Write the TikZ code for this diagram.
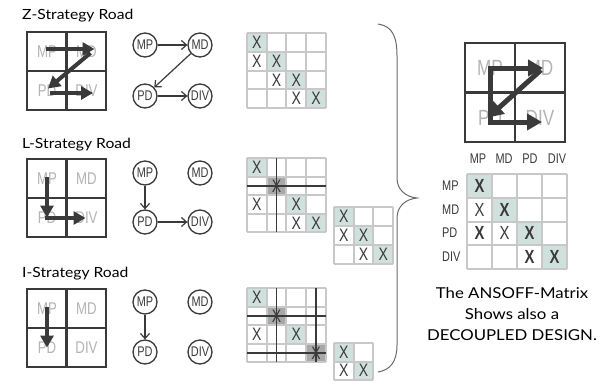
\documentclass[tikz,border=0pt]{standalone}
\usepackage{fontspec}
\usetikzlibrary{arrows.meta,calc}
\newfontfamily\handfont[FakeStretch=1.12]{Lato}
\newfontfamily\condfont[FakeStretch=0.78]{Liberation Sans}

\definecolor{ink}{HTML}{3A3A3A}
\definecolor{gridgray}{HTML}{C8C8C8}
\definecolor{labelgray}{HTML}{B4B4B4}
\definecolor{diagfill}{HTML}{D0E0DD}
\definecolor{darkfill}{HTML}{A8A8A8}
\definecolor{bracegray}{HTML}{6A6A6A}

\tikzset{
  quadframe/.style={draw=ink, line width=2.2pt},
  bigframe/.style={draw=ink, line width=2.8pt},
  quadlabel/.style={font=\condfont\fontsize{17}{17}\selectfont, text=labelgray, inner sep=0},
  biglabel/.style={font=\condfont\fontsize{22}{22}\selectfont, text=labelgray, inner sep=0},
  flow/.style={draw=ink, line width=4pt, -{Triangle[length=12pt,width=13pt]}},
  bigflow/.style={draw=ink, line width=5pt, line join=miter, -{Triangle[length=15pt,width=16pt]}},
  circ/.style={circle, draw=ink, line width=1.3pt, minimum size=24pt, inner sep=0,
    font=\condfont\fontsize{14}{14}\selectfont, text=ink},
  link/.style={draw=ink, line width=1.2pt, -{Straight Barb[length=5pt,width=9pt]}},
  mgrid/.style={draw=gridgray, line width=2pt, line cap=square},
  xmark/.style={font=\condfont\fontsize{18}{18}\selectfont, text=ink, inner sep=0},
  xbold/.style={font=\condfont\bfseries\fontsize{19}{19}\selectfont, text=ink, inner sep=0},
  xthin/.style={font=\condfont\fontsize{19}{19}\selectfont, text=ink, inner sep=0},
  cross/.style={draw=ink, line width=1.6pt},
  roadtitle/.style={font=\handfont\fontsize{14}{14}\selectfont, text=black, anchor=base west, inner sep=0},
  note/.style={font=\handfont\fontsize{15}{15}\selectfont, text=black, anchor=base, inner sep=0},
  axislabel/.style={font=\condfont\fontsize{14}{14}\selectfont, text=ink, inner sep=0},
  brace/.style={draw=bracegray, line width=1pt},
}

% 2x2 strategy grid with grey labels; #1 name prefix, (#2,#3) top-left corner
\newcommand\quadgrid[3]{%
  \draw[quadframe] (#2,#3) rectangle ++(79,78);
  \draw[quadframe] (#2+39.5,#3) -- ++(0,78);
  \draw[quadframe] (#2,#3+39) -- ++(79,0);
  \node[quadlabel] (#1MP)  at (#2+20,#3+19.5) {MP};
  \node[quadlabel] (#1MD)  at (#2+59.5,#3+19.5) {MD};
  \node[quadlabel] (#1PD)  at (#2+20,#3+58.5) {PD};
  \node[quadlabel] (#1DIV) at (#2+59.5,#3+58.5) {DIV};
}
% four circled graph nodes; #1 prefix, #2 top row y, #3 bottom row y
\newcommand\graphnodes[3]{%
  \node[circ] (#1MP)  at (145,#2) {MP};
  \node[circ] (#1MD)  at (200,#2) {MD};
  \node[circ] (#1PD)  at (145,#3) {PD};
  \node[circ] (#1DIV) at (200,#3) {DIV};
}
% design structure matrix helpers
\newcommand\setmtx[4]{\def\mx{#1}\def\my{#2}\def\mw{#3}\def\mh{#4}}
\newcommand\shadecells[2]{%
  \foreach \cc/\rr in {#2}
    \fill[#1] ({\mx+(\cc-1)*\mw},{\my+(\rr-1)*\mh}) rectangle ++(\mw,\mh);}
\newcommand\gridcells[2]{%
  \foreach \k in {0,...,#1} \draw[mgrid] ({\mx+\k*\mw},\my) -- ++(0,{#2*\mh});
  \foreach \k in {0,...,#2} \draw[mgrid] (\mx,{\my+\k*\mh}) -- ++({#1*\mw},0);}
\newcommand\dsmmarks[3]{%
  \foreach \cc/\rr in {#3}
    \node[#2] (#1-\rr-\cc) at ({\mx+(\cc-0.5)*\mw},{\my+(\rr-0.5)*\mh}) {X};}
\newcommand\crosshair[3]{%
  \draw[cross] ({\mx+(#1-0.5)*\mw},\my) -- ++(0,{#3*\mh});
  \draw[cross] (\mx,{\my+(#1-0.5)*\mh}) -- ++({#2*\mw},0);}

\begin{document}
\begin{tikzpicture}[x=1pt,y=-1pt]
\useasboundingbox (0,0) rectangle (610,380);
\fill[white] (0,0) rectangle (610,380);

% ---------------- Z-Strategy Road ----------------
\node[roadtitle] (zt) at (22,19) {Z-Strategy Road};
\quadgrid{zq}{27}{32}
\draw[flow] ([shift={(-1,-2.5)}]zqMP.center) -- ([shift={(8,-2.5)}]zqMD.center);
\draw[flow] ([shift={(4,1.5)}]zqMD.center) -- ([shift={(1,-2)}]zqPD.center);
\draw[flow] ([shift={(3,2.5)}]zqPD.center) -- ([shift={(6.5,2.5)}]zqDIV.center);
\graphnodes{zg}{45}{96}
\draw[link] (zgMP) -- (zgMD);
\draw[link] (zgMD) -- (zgPD);
\draw[link] (zgPD) -- (zgDIV);
\setmtx{247}{33}{19.7}{18.8}
\shadecells{diagfill}{1/1,2/2,3/3,4/4}
\gridcells{4}{4}
\dsmmarks{zm}{xmark}{1/1,1/2,2/2,2/3,3/3,3/4,4/4}

% ---------------- L-Strategy Road ----------------
\node[roadtitle] (lt) at (22,148) {L-Strategy Road};
\quadgrid{lq}{27}{159}
\draw[flow] ([shift={(0,-1.5)}]lqMP.center) -- ([shift={(0,0)}]lqPD.center);
\draw[flow] ([shift={(-2,0.5)}]lqPD.center) -- ([shift={(-1,0.5)}]lqDIV.center);
\graphnodes{lg}{173}{222}
\draw[link] (lgMP) -- (lgPD);
\draw[link] (lgPD) -- (lgDIV);
\setmtx{247}{158}{19.7}{18.6}
\shadecells{diagfill}{1/1,3/3,4/4}
\shadecells{darkfill}{2/2}
\gridcells{4}{4}
\dsmmarks{lm}{xmark}{1/1,2/2,1/3,3/3,3/4,4/4}
\crosshair{2}{4}{4}
\setmtx{334}{207}{19.7}{19}
\shadecells{diagfill}{1/1,2/2,3/3}
\gridcells{3}{3}
\dsmmarks{ls}{xmark}{1/1,1/2,2/2,2/3,3/3}

% ---------------- I-Strategy Road ----------------
\node[roadtitle] (it) at (22,277) {I-Strategy Road};
\quadgrid{iq}{27}{289}
\draw[flow] ([shift={(0,-1.5)}]iqMP.center) -- ([shift={(0,0)}]iqPD.center);
\graphnodes{ig}{302}{352}
\draw[link] (igMP) -- (igPD);
\setmtx{247}{288}{19.7}{18.6}
\shadecells{diagfill}{1/1,3/3}
\shadecells{darkfill}{2/2,4/4}
\gridcells{4}{4}
\dsmmarks{im}{xmark}{1/1,2/2,1/3,3/3,4/4}
\crosshair{2}{4}{4}
\crosshair{4}{4}{4}
\setmtx{334}{343}{19.7}{18.5}
\shadecells{diagfill}{1/1,2/2}
\gridcells{2}{2}
\dsmmarks{is}{xmark}{1/1,1/2,2/2}

% ---------------- brace ----------------
\draw[brace] (378,24) .. controls (392,26) and (397,36) .. (397,56)
  -- (397,178) .. controls (397,190) and (406,197) .. (417,198)
  .. controls (406,199) and (397,206) .. (397,218)
  -- (397,345) .. controls (397,362) and (390,370) .. (378,372);

% ---------------- ANSOFF matrix ----------------
\draw[bigframe] (465,43) rectangle (565,142);
\draw[bigframe] (515,43) -- (515,142);
\draw[bigframe] (465,92.5) -- (565,92.5);
\node[biglabel] (bMP)  at (490,68) {MP};
\node[biglabel] (bMD)  at (540,68) {MD};
\node[biglabel] (bPD)  at (490,117.5) {PD};
\node[biglabel] (bDIV) at (540,117.5) {DIV};
\draw[bigflow] ([shift={(-2,0)}]bMP.center) -- ([shift={(3,0)}]bMD.center);
\draw[bigflow] ([shift={(1,2)}]bMD.center) -- ([shift={(-2,0)}]bPD.center);
\draw[bigflow] ([shift={(0,-2)}]bMP.center) |- ([shift={(2,4.5)}]bDIV.center);

\node[axislabel] (cMP)  at (478,159) {MP};
\node[axislabel] (cMD)  at (504,159) {MD};
\node[axislabel] (cPD)  at (530,159) {PD};
\node[axislabel] (cDIV) at (557,159) {DIV};
\node[axislabel, anchor=west] (rMP)  at (442,186) {MP};
\node[axislabel, anchor=west] (rMD)  at (442,210) {MD};
\node[axislabel, anchor=west] (rPD)  at (442,233) {PD};
\node[axislabel, anchor=west] (rDIV) at (442,257) {DIV};
\setmtx{467}{174}{25}{23.75}
\shadecells{diagfill}{1/1,2/2,3/3,4/4}
\gridcells{4}{4}
\dsmmarks{am}{xbold}{1/1,2/2,1/3,3/3,3/4,4/4}
\dsmmarks{am}{xthin}{1/2,2/3}

\node[note] (n1) at (512,298) {The ANSOFF-Matrix};
\node[note] (n2) at (512,319) {Shows also a};
\node[note] (n3) at (512,340) {DECOUPLED DESIGN.};
\end{tikzpicture}
\end{document}
